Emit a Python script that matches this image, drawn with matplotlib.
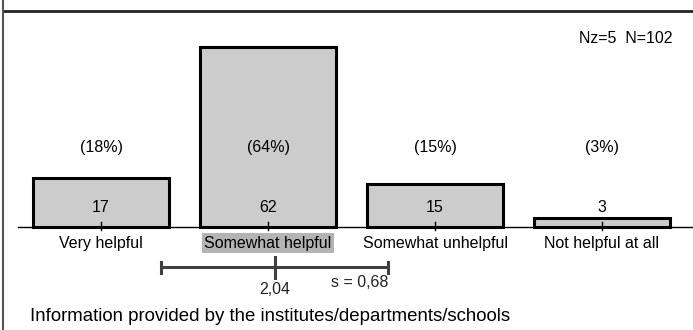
import matplotlib
matplotlib.use("Agg")
import matplotlib.pyplot as plt

categories = ["Very helpful", "Somewhat helpful", "Somewhat unhelpful", "Not helpful at all"]
counts = [17, 62, 15, 3]
percents = ["(18%)", "(64%)", "(15%)", "(3%)"]
mean_value = 2.04
std_value = 0.68
mean_label = "2,04"
std_label = "s = 0,68"
nz_label = "Nz=5  N=102"
title = "Information provided by the institutes/departments/schools"
highlight_index = 1

plt.rcParams['font.family'] = ['Liberation Sans', 'DejaVu Sans']

fig = plt.figure(figsize=(6.93, 3.30), dpi=100)
ax = fig.add_axes([0, 0, 1, 1])
ax.set_xlim(-0.605, 3.545)
ax.set_ylim(-35.5, 78.3)
ax.axis('off')

fs = 11.5
xs = list(range(len(categories)))
ax.bar(xs, counts, width=0.81, color='#cccccc', edgecolor='black', linewidth=2.2, zorder=2)

# baseline
ax.plot([-0.497, 3.545], [0, 0], color='black', lw=1.0, zorder=3)
for x, c, p, cat in zip(xs, counts, percents, categories):
    ax.plot([x, x], [1.7, -1.0], color='black', lw=1.0, zorder=3)
    ax.text(x, 6.9, str(c), ha='center', va='center', fontsize=fs, zorder=4)
    ax.text(x, 27.6, p, ha='center', va='center', fontsize=fs)
    if x == highlight_index:
        ax.text(x, -5.6, cat, ha='center', va='center', fontsize=fs,
                bbox=dict(boxstyle='square,pad=0.15', facecolor='#b4b4b4', edgecolor='none'))
    else:
        ax.text(x, -5.6, cat, ha='center', va='center', fontsize=fs)

# mean and std bar (scale value 1 -> index 0)
m = mean_value - 1
lo = m - std_value
hi = m + std_value
mc = '#404040'
ax.plot([lo, hi], [-13.8, -13.8], color=mc, lw=2.2)
ax.plot([lo, lo], [-12.1, -15.9], color=mc, lw=2.2)
ax.plot([hi, hi], [-12.1, -15.9], color=mc, lw=2.2)
ax.plot([m, m], [-10.3, -17.6], color=mc, lw=2.2)
ax.text(m, -21.7, mean_label, ha='center', va='center', fontsize=fs, color='#222222')
ax.text(hi, -19.0, std_label, ha='right', va='center', fontsize=fs, color='#222222')

ax.text(0.970, 0.882, nz_label, transform=ax.transAxes, ha='right', va='center', fontsize=fs)
ax.text(0.043, 0.042, title, transform=ax.transAxes, ha='left', va='center', fontsize=13.4)

# frame lines
ax.plot([0.0043, 1.0], [0.967, 0.967], transform=ax.transAxes, color='#222222', lw=2.0, clip_on=False)
ax.plot([0.0043, 0.0043], [0.0, 1.0], transform=ax.transAxes, color='#555555', lw=1.5, clip_on=False)

fig.savefig("out.png", dpi=100)
